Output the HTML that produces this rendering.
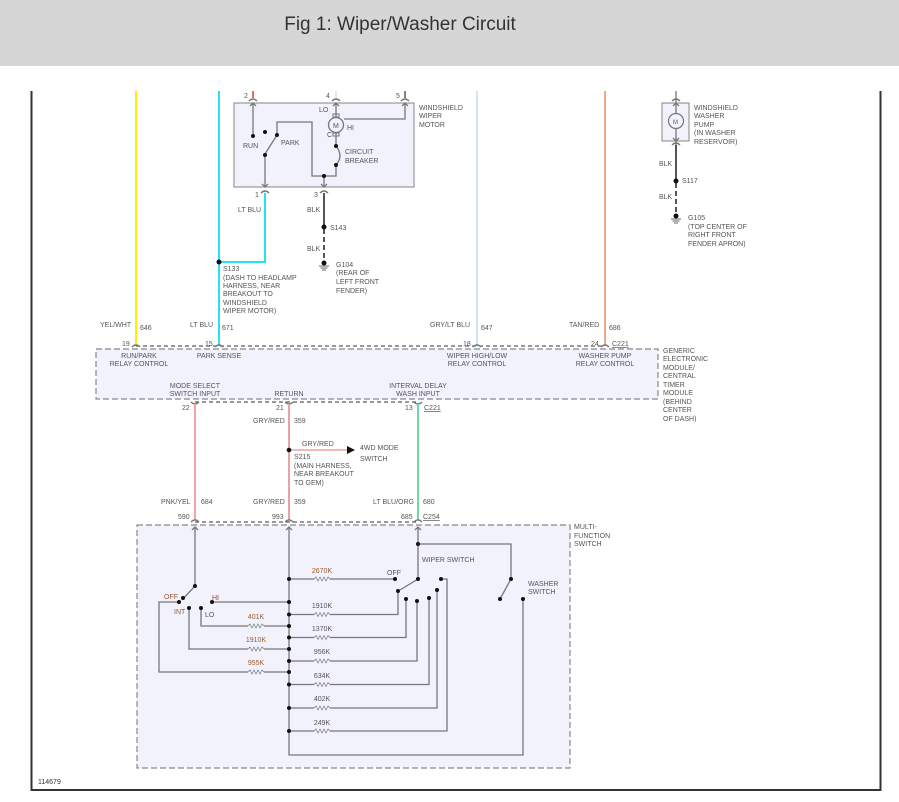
<!DOCTYPE html>
<html><head><meta charset="utf-8"><style>
html,body{margin:0;padding:0;background:#fff;width:899px;height:802px;overflow:hidden}
.hdr{position:absolute;left:0;top:0;width:899px;height:66px;background:#d6d6d6}
.hdr div{position:absolute;left:0;width:800px;top:14px;text-align:center;font:19px "Liberation Sans",sans-serif;color:#333}
svg{position:absolute;left:0;top:0}
text{font-family:"Liberation Sans",sans-serif;font-size:7px;fill:#555}
.o{fill:#9a5a30}
.w{stroke:#777;stroke-width:1.3;fill:none}
.d{fill:#111}
</style></head><body>
<div class="hdr"><div>Fig 1: Wiper/Washer Circuit</div></div>
<svg width="899" height="802" viewBox="0 0 899 802">
<defs>
<symbol id="r" viewBox="0 0 24 6" overflow="visible"><path d="M0,3 L3,0 L6,6 L9,0 L12,6 L15,0 L18,6 L21,0 L24,3" stroke="#777" fill="none" stroke-width="1"/></symbol>
</defs>
<!-- frame -->
<path d="M31.5,91 V790 H880.5 V91" stroke="#333" stroke-width="2" fill="none"/>
<text x="38" y="784" style="font-size:7px;fill:#333">114679</text>

<!-- top wires -->
<line x1="136" y1="91" x2="136" y2="346" stroke="#ffee00" stroke-width="2"/>
<line x1="219" y1="91" x2="219" y2="346" stroke="#22e6ee" stroke-width="2"/>
<line x1="477" y1="91" x2="477" y2="346" stroke="#cfe7ea" stroke-width="2"/>
<line x1="605" y1="91" x2="605" y2="346" stroke="#f0a888" stroke-width="2"/>

<!-- wiper motor -->
<rect x="234" y="103" width="180" height="84" fill="#f2f2fc" stroke="#999" stroke-width="1.2"/>
<line x1="253" y1="91" x2="253" y2="98" stroke="#e33" stroke-width="1.5"/>
<line x1="336" y1="91" x2="336" y2="98" stroke="#ddd" stroke-width="1.5"/>
<line x1="405" y1="91" x2="405" y2="98" stroke="#557" stroke-width="1.5"/>
<g class="w">
<path d="M249,101 q4,-4 8,0 M332,101 q4,-4 8,0 M401,101 q4,-4 8,0"/>
<path d="M253,103 V136 M250,106 l3,-3 3,3"/>
<path d="M336,103 V117 M333,106 l3,-3 3,3"/>
<path d="M405,103 V119 H344 M402,106 l3,-3 3,3"/>
<path d="M265,154 L277,135 M277,135 V122 H312 V176 H336 V165 M336,146 V133"/>
<path d="M336,146 q8,10 0,19"/>
<path d="M265,154 V187 M262,184 l3,3 3,-3 M324,176 V187 M321,184 l3,3 3,-3"/>
<path d="M261,193 q4,-4 8,0 M320,193 q4,-4 8,0"/>
</g>
<circle cx="336" cy="125" r="7.5" fill="#f2f2fc" stroke="#777" stroke-width="1.3"/>
<rect x="333" y="114" width="6" height="3" fill="none" stroke="#777"/>
<rect x="333" y="133" width="6" height="3" fill="none" stroke="#777"/>
<text x="333" y="128" style="font-size:7px">M</text>
<g class="d"><circle cx="253" cy="136" r="2"/><circle cx="265" cy="132" r="2"/><circle cx="277" cy="135" r="2"/><circle cx="265" cy="155" r="2"/><circle cx="336" cy="146" r="2"/><circle cx="336" cy="165" r="2"/><circle cx="324" cy="176" r="2"/></g>
<text x="244" y="98">2</text><text x="326" y="98">4</text><text x="396" y="98">5</text>
<text x="319" y="112">LO</text><text x="347" y="130">HI</text><text x="327" y="137">C</text>
<text x="243" y="148">RUN</text><text x="281" y="145">PARK</text>
<text x="345" y="154">CIRCUIT</text><text x="345" y="163">BREAKER</text>
<text x="419" y="110">WINDSHIELD</text><text x="419" y="118">WIPER</text><text x="419" y="127">MOTOR</text>
<text x="255" y="197">1</text><text x="314" y="197">3</text>
<path d="M265,193 V262 H219" stroke="#22e6ee" stroke-width="2" fill="none"/>
<path d="M324,193 V227" stroke="#555" stroke-width="2"/>
<path d="M324,229 V263" stroke="#555" stroke-width="2" stroke-dasharray="5,3"/>
<g class="d"><circle cx="219" cy="262" r="2.5"/><circle cx="324" cy="227" r="2.5"/><circle cx="324" cy="263" r="2.5"/></g>
<path d="M319,266 H329 M320.5,268 H327.5 M322,270 H326" stroke="#666" stroke-width="1"/>
<text x="238" y="212">LT BLU</text><text x="307" y="212">BLK</text><text x="330" y="230">S143</text><text x="307" y="251">BLK</text>
<text x="336" y="267">G104</text><text x="336" y="275">(REAR OF</text><text x="336" y="284">LEFT FRONT</text><text x="336" y="293">FENDER)</text>
<text x="223" y="271">S133</text><text x="223" y="280">(DASH TO HEADLAMP</text><text x="223" y="288">HARNESS, NEAR</text><text x="223" y="296">BREAKOUT TO</text><text x="223" y="305">WINDSHIELD</text><text x="223" y="313">WIPER MOTOR)</text>

<!-- washer pump -->
<rect x="662" y="103" width="27" height="38" fill="#f2f2fc" stroke="#999" stroke-width="1.2"/>
<g class="w"><path d="M676,91 V113 M676,129 V181 M673,106 l3,-3 3,3 M673,138 l3,3 3,-3 M672,101 q4,-4 8,0 M672,145 q4,-4 8,0"/></g>
<circle cx="676" cy="121" r="7.5" fill="#f2f2fc" stroke="#777" stroke-width="1.2"/>
<text x="673" y="124" style="font-size:6px">M</text>
<path d="M676,145 V181" stroke="#555" stroke-width="2"/>
<path d="M676,183 V216" stroke="#555" stroke-width="2" stroke-dasharray="5,3"/>
<g class="d"><circle cx="676" cy="181" r="2.5"/><circle cx="676" cy="216" r="2.5"/></g>
<path d="M671,219 H681 M672.5,221 H679.5 M674,223 H678" stroke="#666"/>
<text x="694" y="110">WINDSHIELD</text><text x="694" y="118">WASHER</text><text x="694" y="127">PUMP</text><text x="694" y="135">(IN WASHER</text><text x="694" y="144">RESERVOIR)</text>
<text x="659" y="166">BLK</text><text x="682" y="183">S117</text><text x="659" y="199">BLK</text>
<text x="688" y="220">G105</text><text x="688" y="229">(TOP CENTER OF</text><text x="688" y="237">RIGHT FRONT</text><text x="688" y="246">FENDER APRON)</text>

<!-- wire labels top -->
<text x="100" y="327">YEL/WHT</text><text x="140" y="330">646</text>
<text x="190" y="327">LT BLU</text><text x="222" y="330">671</text>
<text x="430" y="327">GRY/LT BLU</text><text x="481" y="330">647</text>
<text x="569" y="327">TAN/RED</text><text x="609" y="330">686</text>

<!-- GEM -->
<rect x="96" y="349" width="562" height="50" fill="#f2f2fc" stroke="#888" stroke-width="1.2" stroke-dasharray="6,3"/>
<line x1="136" y1="346" x2="605" y2="346" stroke="#333" stroke-dasharray="4,3"/>
<g class="w"><path d="M132,347 q4,-4 8,0 M215,347 q4,-4 8,0 M473,347 q4,-4 8,0 M601,347 q4,-4 8,0"/></g>
<text x="122" y="346">19</text><text x="205" y="346">15</text><text x="463" y="346">18</text><text x="591" y="346">24</text>
<text x="612" y="346" style="text-decoration:underline">C221</text>
<g text-anchor="middle">
<text x="139" y="358">RUN/PARK</text><text x="139" y="366">RELAY CONTROL</text>
<text x="219" y="358">PARK SENSE</text>
<text x="477" y="358">WIPER HIGH/LOW</text><text x="477" y="366">RELAY CONTROL</text>
<text x="605" y="358">WASHER PUMP</text><text x="605" y="366">RELAY CONTROL</text>
<text x="195" y="388">MODE SELECT</text><text x="195" y="396">SWITCH INPUT</text>
<text x="289" y="396">RETURN</text>
<text x="418" y="388">INTERVAL DELAY</text><text x="418" y="396">WASH INPUT</text>
</g>
<text x="663" y="353">GENERIC</text><text x="663" y="361">ELECTRONIC</text><text x="663" y="370">MODULE/</text><text x="663" y="378">CENTRAL</text><text x="663" y="387">TIMER</text><text x="663" y="395">MODULE</text><text x="663" y="404">(BEHIND</text><text x="663" y="412">CENTER</text><text x="663" y="421">OF DASH)</text>
<line x1="195" y1="402" x2="418" y2="402" stroke="#333" stroke-dasharray="4,3"/>
<g class="w"><path d="M191,402 q4,4 8,0 M285,402 q4,4 8,0 M414,402 q4,4 8,0"/></g>
<text x="182" y="410">22</text><text x="276" y="410">21</text><text x="405" y="410">13</text>
<text x="424" y="410" style="text-decoration:underline">C221</text>

<line x1="195" y1="404" x2="195" y2="520" stroke="#f4a4a0" stroke-width="2"/>
<line x1="289" y1="404" x2="289" y2="520" stroke="#e8a4a4" stroke-width="2"/>
<line x1="418" y1="404" x2="418" y2="520" stroke="#70d8a8" stroke-width="2"/>
<path d="M289,450 H348" stroke="#e8a4a4" stroke-width="1.5"/>
<path d="M347,446 L355,450 L347,454 Z" fill="#111"/>
<circle cx="289" cy="450" r="2.3" class="d"/>
<text x="253" y="423">GRY/RED</text><text x="294" y="423">359</text>
<text x="302" y="446">GRY/RED</text><text x="360" y="450">4WD MODE</text><text x="360" y="461">SWITCH</text>
<text x="294" y="459">S215</text><text x="294" y="468">(MAIN HARNESS,</text><text x="294" y="476">NEAR BREAKOUT</text><text x="294" y="485">TO GEM)</text>
<text x="161" y="504">PNK/YEL</text><text x="201" y="504">684</text>
<text x="253" y="504">GRY/RED</text><text x="294" y="504">359</text>
<text x="373" y="504">LT BLU/ORG</text><text x="423" y="504">680</text>
<text x="178" y="519">590</text><text x="272" y="519">993</text><text x="401" y="519">685</text>
<text x="423" y="519" style="text-decoration:underline">C254</text>

<!-- MFS -->
<rect x="137" y="525" width="433" height="243" fill="#f2f2fc" stroke="#888" stroke-width="1.2" stroke-dasharray="6,3"/>
<line x1="195" y1="522" x2="418" y2="522" stroke="#333" stroke-dasharray="4,3"/>
<g class="w"><path d="M191,522 q4,-4 8,0 M285,522 q4,-4 8,0 M414,522 q4,-4 8,0"/>
<path d="M192,530 l3,-3 3,3 M286,530 l3,-3 3,3 M415,530 l3,-3 3,3"/>
<path d="M195,527 V586 L182,600"/>
<path d="M289,527 V755 H523 V599"/>
<path d="M212,602 H289"/>
<path d="M201,608 V626 H248 M264,626 H289"/>
<path d="M189,608 V649 H248 M264,649 H289"/>
<path d="M179,602 H159 V672 H248 M264,672 H289"/>
<path d="M289,579 H314 M330,579 H395"/>
<path d="M418,527 V579 L400,590"/>
<path d="M418,544 H511 V579 L500,599"/>
<path d="M289,614.5 H314 M330,614.5 H398 V591"/>
<path d="M289,637.5 H314 M330,637.5 H406 V599"/>
<path d="M289,661 H314 M330,661 H417 V601"/>
<path d="M289,684.5 H314 M330,684.5 H429 V598"/>
<path d="M289,708 H314 M330,708 H437 V590"/>
<path d="M289,731 H314 M330,731 H447 V579 H441"/>
</g>
<g>
<use href="#r" x="248" y="623" width="16" height="6"/>
<use href="#r" x="248" y="646" width="16" height="6"/>
<use href="#r" x="248" y="669" width="16" height="6"/>
<use href="#r" x="314" y="576" width="16" height="6"/>
<use href="#r" x="314" y="611.5" width="16" height="6"/>
<use href="#r" x="314" y="634.5" width="16" height="6"/>
<use href="#r" x="314" y="658" width="16" height="6"/>
<use href="#r" x="314" y="681.5" width="16" height="6"/>
<use href="#r" x="314" y="705" width="16" height="6"/>
<use href="#r" x="314" y="728" width="16" height="6"/>
</g>
<g class="d">
<circle cx="195" cy="586" r="2"/><circle cx="183" cy="598" r="2"/><circle cx="179" cy="602" r="2"/><circle cx="189" cy="608" r="2"/><circle cx="201" cy="608" r="2"/><circle cx="212" cy="602" r="2"/>
<circle cx="289" cy="579" r="2"/><circle cx="289" cy="602" r="2"/><circle cx="289" cy="614.5" r="2"/><circle cx="289" cy="626" r="2"/><circle cx="289" cy="637.5" r="2"/><circle cx="289" cy="649" r="2"/><circle cx="289" cy="661" r="2"/><circle cx="289" cy="672" r="2"/><circle cx="289" cy="684.5" r="2"/><circle cx="289" cy="708" r="2"/><circle cx="289" cy="731" r="2"/>
<circle cx="395" cy="579" r="2"/><circle cx="418" cy="579" r="2"/><circle cx="418" cy="544" r="2"/><circle cx="398" cy="591" r="2"/><circle cx="406" cy="599" r="2"/><circle cx="417" cy="601" r="2"/><circle cx="429" cy="598" r="2"/><circle cx="437" cy="590" r="2"/><circle cx="441" cy="579" r="2"/>
<circle cx="511" cy="579" r="2"/><circle cx="500" cy="599" r="2"/><circle cx="523" cy="599" r="2"/>
</g>
<text class="o" x="164" y="599">OFF</text><text class="o" x="174" y="614">INT</text><text x="205" y="617">LO</text><text x="212" y="600" style="fill:#a04040">HI</text>
<g text-anchor="middle">
<text class="o" x="256" y="619">401K</text><text class="o" x="256" y="642">1910K</text><text class="o" x="256" y="665">955K</text>
<text class="o" x="322" y="573">2670K</text><text x="322" y="608">1910K</text><text x="322" y="631">1370K</text><text x="322" y="654">956K</text><text x="322" y="678">634K</text><text x="322" y="701">402K</text><text x="322" y="725">249K</text>
</g>
<text x="387" y="575">OFF</text><text x="422" y="562">WIPER SWITCH</text>
<text x="528" y="586">WASHER</text><text x="528" y="594">SWITCH</text>
<text x="574" y="529">MULTI-</text><text x="574" y="538">FUNCTION</text><text x="574" y="546">SWITCH</text>
</svg>
</body></html>
